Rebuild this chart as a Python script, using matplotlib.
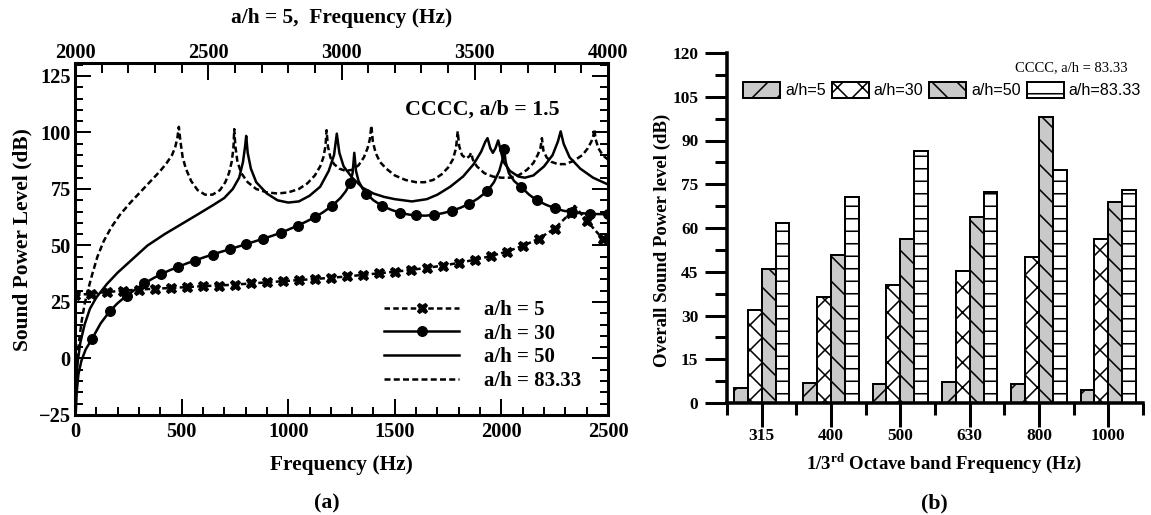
import numpy as np
import matplotlib
matplotlib.use("Agg")
import matplotlib.pyplot as plt
from matplotlib.ticker import MultipleLocator

plt.rcParams['font.family'] = ['Liberation Serif', 'DejaVu Serif']
plt.rcParams['font.weight'] = 'bold'
plt.rcParams['axes.labelweight'] = 'bold'
plt.rcParams['mathtext.fontset'] = 'stix'
plt.rcParams['hatch.linewidth'] = 1.5

# ---- (a) sound power level spectra ----
# a/h = 83.33 (bottom axis, Hz / dB)
f83 = [0, 4, 8, 14, 22, 32, 45, 60, 80, 105, 135, 170, 210, 260, 310, 360, 400, 430, 455, 470,
       480, 487, 494, 505, 520, 545, 575, 610, 645, 680, 705, 722, 735, 743, 747, 752, 762, 780,
       810, 850, 900, 950, 1000, 1050, 1090, 1125, 1150, 1165, 1175, 1180, 1186, 1198, 1215, 1240,
       1270, 1300, 1330, 1355, 1372, 1383, 1390, 1397, 1410, 1430, 1460, 1500, 1550, 1600, 1640,
       1680, 1720, 1750, 1772, 1787, 1795, 1802, 1815, 1835, 1850, 1858, 1866, 1885, 1920, 1960,
       2000, 2040, 2080, 2120, 2150, 2170, 2183, 2190, 2197, 2212, 2235, 2265, 2300, 2340, 2380,
       2405, 2422, 2431, 2436, 2442, 2455, 2475, 2500]
db83 = [-25, -12, -4, 3, 10, 17, 24, 30, 37, 45, 52, 58, 63.5, 69, 74, 79, 83, 86.5, 90, 93.5,
        97.5, 102.5, 96.5, 89, 84, 78.5, 74.5, 72.5, 72.5, 74.5, 78, 82, 87, 93, 101.5, 94, 87, 82,
        78, 75, 73.5, 73, 73.5, 75, 77.5, 81, 85, 89, 94, 101, 94, 89, 86, 84,
        83, 83.5, 85.5, 89, 93, 97, 103, 96, 91, 87, 84, 81, 79, 78, 78,
        79, 81.5, 84.5, 88, 93, 100.5, 94, 90, 88.5, 89.5, 91, 88, 85, 82, 80.5,
        80, 80, 81, 83.5, 86.5, 90, 93, 97.5, 92, 89, 87, 86, 86, 87.5, 90,
        93, 96, 98.5, 101.5, 97, 93, 90, 88]

# a/h = 50
f50 = [0, 5, 12, 25, 45, 70, 100, 150, 200, 270, 340, 420, 500, 580, 650, 700, 740, 770, 788,
       798, 803, 810, 825, 850, 900, 950, 1000, 1050, 1100, 1150, 1190, 1215, 1228, 1240, 1260,
       1300, 1350, 1400, 1450, 1500, 1580, 1650, 1700, 1760, 1820, 1870, 1905, 1925, 1935, 1948,
       1960, 1972, 1985, 1997, 2010, 2040, 2080, 2110, 2150, 2200, 2240, 2265, 2278, 2292, 2320,
       2370, 2430, 2500]
db50 = [-25, -12, -2, 7, 15, 22, 27, 33, 38, 44, 50, 55, 59.5, 64, 68, 71, 75, 80, 87,
        94, 98.5, 91, 84, 78, 73, 70, 69, 69.5, 72, 76, 83, 90, 99.5, 91, 85,
        80, 75.5, 73, 71.5, 70.5, 69.5, 70.5, 72.5, 76, 80.5, 86, 91.5, 96, 97.5, 93,
        91, 93, 96.5, 92, 87, 83, 80.5, 80, 81, 85, 90, 96, 100.5, 95, 89,
        84, 80, 77]

# a/h = 30
f30 = [3, 8, 16, 30, 50, 80, 120, 162, 200, 242, 285, 325, 365, 403, 443, 483, 522, 561, 603,
       645, 685, 725, 765, 803, 843, 883, 925, 967, 1005, 1045, 1085, 1125, 1165, 1205, 1245,
       1270, 1290, 1302, 1310, 1318, 1330, 1350, 1366, 1400, 1441, 1483, 1524, 1565, 1600, 1645,
       1685, 1725, 1766, 1808, 1850, 1890, 1933, 1965, 1990, 2005, 2013, 2020, 2035, 2060, 2091,
       2130, 2166, 2210, 2250, 2290, 2333, 2375, 2417, 2458, 2500]
db30 = [-25, -15, -7, -1, 4, 8.7, 15.5, 20.8, 24.5, 27.8, 30.7, 33.2, 35.4, 37.3, 39, 40.5, 42,
        43.3, 44.7, 46, 47.2, 48.3, 49.5, 50.6, 51.8, 53, 54.3, 55.7, 57.2, 58.8, 60.6, 62.5,
        64.8, 67.5, 71, 74, 77.5, 82, 91, 83, 78.5, 75, 73, 70, 67.5, 65.8, 64.5, 63.7, 63.3,
        63.2, 63.6, 64.3, 65.3, 66.7, 68.5, 70.8, 74, 78, 83, 88, 92.5, 87, 82, 78.5, 76,
        72.5, 70, 68, 66.5, 65.4, 64.7, 64.3, 64, 63.9, 63.8]
mark30 = [80, 162, 242, 325, 403, 483, 561, 645, 725, 803, 883, 967, 1045, 1125, 1205, 1290,
          1366, 1441, 1524, 1600, 1685, 1766, 1850, 1933, 2013, 2091, 2166, 2250, 2333, 2417, 2500]

# a/h = 5 (top axis, 2000-4000 Hz)
f5 = [2000, 2060, 2120, 2180, 2240, 2300, 2360, 2420, 2480, 2540, 2600, 2660, 2720, 2780, 2840,
      2900, 2960, 3020, 3080, 3140, 3200, 3260, 3320, 3380, 3440, 3500, 3560, 3620, 3680, 3740,
      3800, 3860, 3875, 3920, 3980, 4000]
db5 = [28.0, 28.7, 29.4, 30.0, 30.5, 30.9, 31.2, 31.6, 32.0, 32.3, 32.7, 33.2, 33.7, 34.2, 34.7,
       35.2, 35.7, 36.3, 37.0, 37.7, 38.4, 39.2, 40.1, 41.1, 42.3, 43.7, 45.3, 47.3, 49.8, 53.0,
       57.5, 64.5, 67.5, 61, 53, 50.5]
nomark5 = [3875, 4000]

# ---- (b) overall sound power level in 1/3 octave bands ----
bands = ['315', '400', '500', '630', '800', '1000']
ah5 = [5.2, 7.0, 6.5, 7.2, 6.5, 4.3]
ah30 = [31.9, 36.2, 40.6, 45.1, 50.2, 56.3]
ah50 = [46.0, 50.8, 56.3, 63.8, 97.9, 68.9]
ah83 = [61.8, 70.7, 86.4, 72.4, 79.8, 73.0]

W, H, DPI = 1151, 515, 75
fig = plt.figure(figsize=(W / DPI, H / DPI), dpi=DPI)

# ================= (a) =================
ax = fig.add_axes([75 / W, 1 - 415 / H, 533 / W, 352 / H])
ax2 = ax.twiny()
lw = 2.4
h30, = ax.plot(f30, db30, '-', color='k', lw=lw, marker='o', ms=9.5,
               markevery=[i for i, f in enumerate(f30) if f in mark30], label='a/h = 30')
h50, = ax.plot(f50, db50, '-', color='k', lw=lw, label='a/h = 50')
h83, = ax.plot(f83, db83, color='k', lw=lw, ls=(0, (2.4, 1.3)), label='a/h = 83.33')
h5, = ax2.plot(f5, db5, color='k', lw=lw, ls=(0, (2.2, 1.3)), marker='X', ms=10,
               markevery=[i for i, f in enumerate(f5) if f not in nomark5], label='a/h = 5')

ax.set_xlim(0, 2500)
ax.set_ylim(-25, 130.75)
ax2.set_xlim(2000, 4000)
ax.xaxis.set_major_locator(MultipleLocator(500))
ax.xaxis.set_minor_locator(MultipleLocator(100))
ax.yaxis.set_major_locator(MultipleLocator(25))
ax.yaxis.set_minor_locator(MultipleLocator(5))
ax2.xaxis.set_major_locator(MultipleLocator(500))
ax2.xaxis.set_minor_locator(MultipleLocator(100))

for a in (ax, ax2):
    for s in a.spines.values():
        s.set_linewidth(2.9)
ax.tick_params(axis='both', which='both', direction='in', width=1.9, top=False, right=True,
               labelsize=19.5)
ax.tick_params(axis='both', which='major', length=15.4)
ax.tick_params(axis='both', which='minor', length=7.7)
ax.tick_params(axis='x', pad=6.5)
ax.tick_params(axis='y', pad=4)
ax2.tick_params(axis='x', which='both', direction='in', width=1.9, labelsize=19.5, pad=0)
ax2.tick_params(axis='x', which='major', length=16.3)
ax2.tick_params(axis='x', which='minor', length=9.6)

ax.set_xlabel('Frequency (Hz)', fontsize=20.5)
ax.xaxis.set_label_coords(0.5, -0.142)
ax.xaxis.label.set_va('center')
ax.set_ylabel('Sound Power Level (dB)', fontsize=20.5)
ax.yaxis.set_label_coords(-0.0994, 0.497)
ax.yaxis.label.set_va('center')
ax2.set_xlabel('a/h = 5,  Frequency (Hz)', fontsize=20.5)
ax2.xaxis.set_label_coords(0.5, 1.128)
ax2.xaxis.label.set_va('center')

fig.text(482 / W, 1 - 110 / H, 'CCCC, a/b = 1.5', fontsize=21, ha='center', va='center')
ax2.legend([h5, h30, h50, h83], ['a/h = 5', 'a/h = 30', 'a/h = 50', 'a/h = 83.33'],
           loc='upper left', bbox_to_anchor=(384 / W, 1 - 300 / H),
           bbox_transform=fig.transFigure, frameon=False, borderpad=0, borderaxespad=0,
           fontsize=20, handlelength=3.6, handletextpad=1.2, labelspacing=0.18, numpoints=1)
fig.text(327 / W, 1 - 503 / H, '(a)', fontsize=21, ha='center', va='center')

# ================= (b) =================
bx = fig.add_axes([727 / W, 1 - 403 / H, 416 / W, 350 / H])
x = np.arange(len(bands))
gray = '#c9c9c9'
styles = [(ah5, gray, '/', 'a/h=5'), (ah30, 'white', 'x', 'a/h=30'),
          (ah50, gray, '\\', 'a/h=50'), (ah83, 'white', '-', 'a/h=83.33')]
for k, (vals, fc, hatch, lab) in enumerate(styles):
    bx.bar(x + (k - 1.5) * 0.2, vals, width=0.2, color=fc, edgecolor='k', lw=1.9,
           hatch=hatch, label=lab, zorder=2)

bx.set_xlim(-0.5, 5.5)
bx.set_ylim(0, 120)
bx.set_xticks(x, bands)
bx.set_xticks(np.arange(-0.5, 6, 1), minor=True)
bx.yaxis.set_major_locator(MultipleLocator(15))
bx.yaxis.set_minor_locator(MultipleLocator(7.5))
bx.spines['top'].set_visible(False)
bx.spines['right'].set_visible(False)
bx.spines['left'].set_linewidth(3.4)
bx.spines['bottom'].set_linewidth(3.4)
bx.tick_params(axis='both', which='both', direction='out', width=2.9, labelsize=16.5)
bx.tick_params(axis='y', which='major', length=21, pad=6.5)
bx.tick_params(axis='y', which='minor', length=11.5)
bx.tick_params(axis='x', which='major', length=23, pad=1)
bx.tick_params(axis='x', which='minor', length=11.5)

bx.set_xlabel(r'1/3$^{\mathbf{rd}}$ Octave band Frequency (Hz)', fontsize=18)
bx.xaxis.set_label_coords(0.5216, -0.1714)
bx.xaxis.label.set_va('center')
bx.set_ylabel('Overall Sound Power level (dB)', fontsize=18)
bx.yaxis.set_label_coords(-0.1563, 0.4657)
bx.yaxis.label.set_va('center')

bx.legend(ncol=4, loc='upper left', bbox_to_anchor=(743 / W, 1 - 82 / H),
          bbox_transform=fig.transFigure, frameon=False, borderpad=0, borderaxespad=0,
          handlelength=2.3, handleheight=1.1, handletextpad=0.3, columnspacing=0.37,
          prop={'family': 'Liberation Sans', 'size': 15.5, 'weight': 'normal'})
fig.text(1071 / W, 1 - 68 / H, 'CCCC, a/h = 83.33', fontsize=14, fontweight='normal',
         ha='center', va='center')
fig.text(934 / W, 1 - 503 / H, '(b)', fontsize=21, ha='center', va='center')

fig.savefig('out.png', dpi=DPI)
